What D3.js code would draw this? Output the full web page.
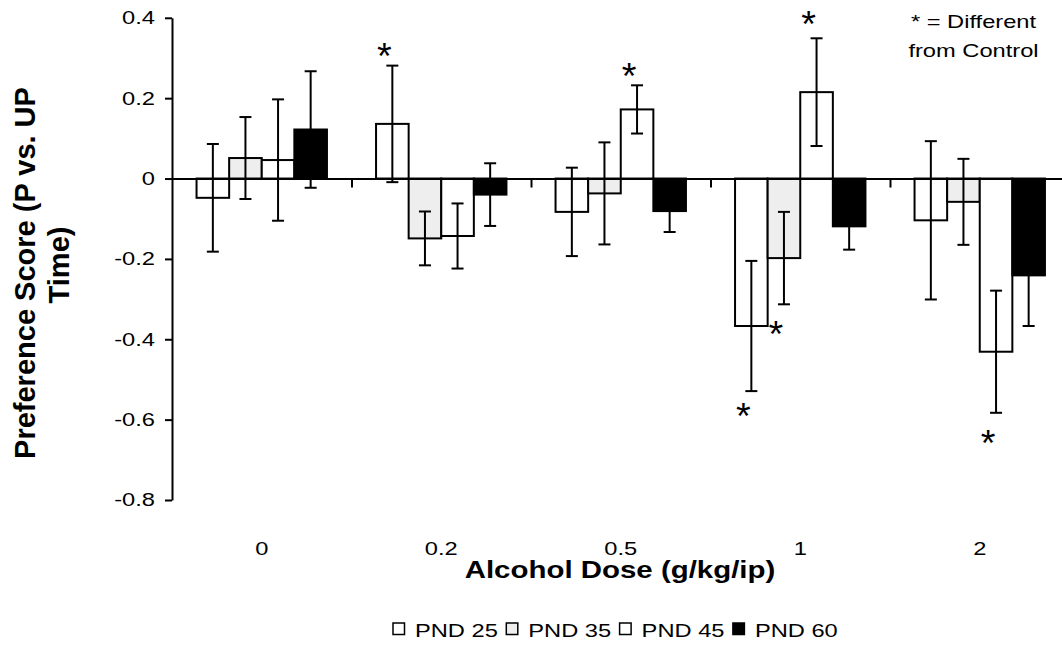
<!DOCTYPE html>
<html>
<head>
<meta charset="utf-8">
<script src="https://cdn.jsdelivr.net/npm/d3@7"></script>
<style>
  html, body { margin: 0; padding: 0; background: #fff; }
  svg { display: block; font-family: "Liberation Sans", Arial, sans-serif; }
</style>
</head>
<body>
<svg id="chart" width="1062" height="645"></svg>
<script>
// ---------- data ----------
const doses = ["0", "0.2", "0.5", "1", "2"];
const series = ["PND 25", "PND 35", "PND 45", "PND 60"];

const pnd25 = [-0.048, 0.136, -0.083, -0.367, -0.104];
const pnd35 = [0.051, -0.149, -0.037, -0.198, -0.058];
const pnd45 = [0.046, -0.143, 0.172, 0.215, -0.431];
const pnd60 = [0.122, -0.040, -0.081, -0.119, -0.241];

const err25 = [0.134, 0.145, 0.110, 0.162, 0.197];
const err35 = [0.102, 0.067, 0.127, 0.115, 0.107];
const err45 = [0.151, 0.081, 0.060, 0.134, 0.152];
const err60 = [0.145, 0.078, 0.052, 0.058, 0.126];

const starDose   = ["0.2", "0.5", "1", "1", "1", "2"];
const starSeries = ["PND 25", "PND 45", "PND 45", "PND 25", "PND 35", "PND 45"];
const starLevel  = [0.324, 0.275, 0.404, -0.572, -0.367, -0.639];

const yTicks = [-0.8, -0.6, -0.4, -0.2, 0, 0.2, 0.4];
const yTickLabels = ["-0.8", "-0.6", "-0.4", "-0.2", "0", "0.2", "0.4"];

const noteLines = ["* = Different", "from Control"];
const xTitle = "Alcohol Dose (g/kg/ip)";
const yTitleLines = ["Preference Score (P vs. UP", "Time)"];

// ---------- build table ----------
const means = [pnd25, pnd35, pnd45, pnd60];
const errs = [err25, err35, err45, err60];
const rows = [];
doses.forEach((d, i) => series.forEach((s, j) => {
  rows.push({ dose: d, series: s, value: means[j][i], err: errs[j][i] });
}));

// ---------- layout ----------
const svg = d3.select("#chart");
const left = 172, bandW = 179.5;
const right = left + bandW * doses.length;
const SX = 1.28; // horizontal text stretch seen in reference

const x = d3.scaleBand().domain(doses).range([left, right]).paddingInner(0).paddingOuter(0);
const xs = d3.scaleBand().domain(series).range([0, x.bandwidth()]).paddingInner(0).paddingOuter(0.753);
const y = d3.scaleLinear().domain([-0.8, 0.4]).range([500, 17.8]);
const fill = d3.scaleOrdinal().domain(series).range(["#ffffff", "#eeeeee", "#ffffff", "#000000"]);

svg.append("rect").attr("width", 1062).attr("height", 645).attr("fill", "#fff");

// bars
svg.append("g").selectAll("rect").data(rows).join("rect")
  .attr("x", d => x(d.dose) + xs(d.series))
  .attr("width", xs.bandwidth())
  .attr("y", d => Math.min(y(d.value), y(0)))
  .attr("height", d => Math.abs(y(d.value) - y(0)))
  .attr("fill", d => fill(d.series))
  .attr("stroke", "#000").attr("stroke-width", 2);

// x axis (zero line with boundary ticks)
const xb = d3.scaleLinear().domain([0, doses.length]).range([left, right]);
const xAxisG = svg.append("g").attr("transform", `translate(0,${y(0)})`)
  .call(d3.axisBottom(xb).tickValues(d3.range(1, doses.length)).tickSize(9).tickSizeOuter(0).tickFormat(""));
xAxisG.selectAll("path,line").attr("stroke", "#000").attr("stroke-width", 2);

// error bars
const eb = svg.append("g").attr("stroke", "#000").attr("stroke-width", 2);
const cx = d => x(d.dose) + xs(d.series) + xs.bandwidth() / 2;
eb.selectAll("line.v").data(rows).join("line").attr("class", "v")
  .attr("x1", cx).attr("x2", cx)
  .attr("y1", d => y(d.value + d.err)).attr("y2", d => y(d.value - d.err));
eb.selectAll("line.t").data(rows).join("line").attr("class", "t")
  .attr("x1", d => cx(d) - 6).attr("x2", d => cx(d) + 6)
  .attr("y1", d => y(d.value + d.err)).attr("y2", d => y(d.value + d.err));
eb.selectAll("line.b").data(rows).join("line").attr("class", "b")
  .attr("x1", d => cx(d) - 6).attr("x2", d => cx(d) + 6)
  .attr("y1", d => y(d.value - d.err)).attr("y2", d => y(d.value - d.err));

// y axis
const yAxisG = svg.append("g").attr("transform", `translate(${left},0)`)
  .call(d3.axisLeft(y).tickValues(yTicks).tickSize(7).tickSizeOuter(0)
    .tickFormat((d, i) => yTickLabels[i]));
yAxisG.selectAll("path,line").attr("stroke", "#000").attr("stroke-width", 2);
yAxisG.selectAll("text")
  .attr("font-size", 18.5).attr("fill", "#000")
  .attr("x", -17 / SX).attr("transform", `scale(${SX},1)`)
  .attr("font-family", "Liberation Sans, Arial, sans-serif");

// x tick labels
const xLab = svg.append("g").attr("transform", "translate(0,555)")
  .call(d3.axisBottom(x).tickSize(0).tickPadding(0));
xLab.select(".domain").remove();
xLab.selectAll("text").attr("y", 0).attr("dy", 0)
  .attr("font-size", 18.5).attr("fill", "#000")
  .attr("transform", `scale(${SX},1)`)
  .attr("font-family", "Liberation Sans, Arial, sans-serif");

// stars
svg.append("g").selectAll("text").data(starDose.map((d, i) => ({ dose: d, series: starSeries[i], level: starLevel[i] })))
  .join("text")
  .attr("transform", d => `translate(${x(d.dose) + xs(d.series) + xs.bandwidth() / 2 - 8},${y(d.level) + 21}) scale(1.05,1)`)
  .attr("text-anchor", "middle").attr("font-size", 36).attr("fill", "#000")
  .text("*");

// note
svg.append("g").selectAll("text").data(noteLines).join("text")
  .attr("transform", (d, i) => `translate(973.5,${28.3 + i * 28.4}) scale(${SX},1)`)
  .attr("text-anchor", "middle").attr("font-size", 18.5).attr("fill", "#000")
  .text(d => d);

// x title
svg.append("text")
  .attr("transform", `translate(620,578.3) scale(${SX},1)`)
  .attr("text-anchor", "middle").attr("font-size", 23).attr("font-weight", "bold")
  .text(xTitle);

// y title
const yCenters = [273, 265];
const yBase = [35, 69];
svg.append("g").selectAll("text").data(yTitleLines).join("text")
  .attr("transform", (d, i) => `translate(${yBase[i]},${yCenters[i]}) rotate(-90)`)
  .attr("text-anchor", "middle").attr("font-size", 29).attr("font-weight", "bold")
  .text(d => d);

// legend
const lx = d3.scaleLinear().domain([0, series.length]).range([393, 393 + 113.3 * series.length]);
const leg = svg.append("g").selectAll("g").data(series).join("g")
  .attr("transform", (d, i) => `translate(${lx(i)},0)`);
leg.append("rect").attr("x", 0).attr("y", 623).attr("width", 11.5).attr("height", 11.5)
  .attr("fill", d => fill(d)).attr("stroke", "#000").attr("stroke-width", 1.5);
leg.append("text").attr("transform", `translate(22,637) scale(${SX},1)`)
  .attr("font-size", 18.5).attr("fill", "#000").text(d => d);
</script>
</body>
</html>
